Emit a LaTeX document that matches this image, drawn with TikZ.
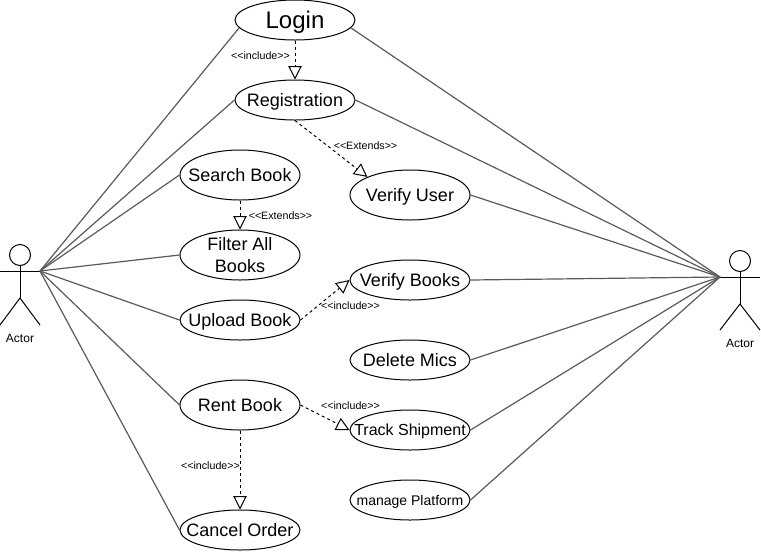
\documentclass[tikz,border=0pt]{standalone}
\usepackage{fontspec}
\setmainfont{Liberation Sans}
\usetikzlibrary{shapes.geometric,arrows.meta}
\definecolor{assocgray}{RGB}{90,90,90}
\newcommand{\fbig}{\fontsize{18}{21}\selectfont}
\newcommand{\fmid}{\fontsize{13.5}{16.5}\selectfont}
\newcommand{\fsml}{\fontsize{12}{14}\selectfont}
\newcommand{\ftny}{\fontsize{10.5}{12}\selectfont}
\newcommand{\nodp}[1]{\raisebox{0pt}[\height][0pt]{#1}}
\newcommand{\incl}{<{}<include>{}>}
\newcommand{\extd}{<{}<Extends>{}>}

\begin{document}
\begin{tikzpicture}[
    x=0.75pt,y=-0.75pt,
    ucase/.style 2 args={ellipse,draw,line width=0.75pt,minimum width=90pt,
                 minimum height=30pt,inner sep=0pt,
                 label={[align=center,inner sep=0pt,font=#1]center:{#2}}},
    tallcase/.style={minimum height=37.5pt},
    assoc/.style={assocgray,line width=0.9pt},
    dep/.style={-{Triangle[length=10pt,width=10pt,fill=white]},
                dash pattern=on 2.25pt off 2.25pt,line width=0.75pt},
    stereo/.style={font=\fontsize{8}{10}\selectfont,inner sep=0pt},
    limb/.style={line width=0.75pt},
    head/.style={circle,draw,line width=0.75pt,minimum size=15.75pt,inner sep=0pt},
    actorname/.style={font=\fontsize{9}{11}\selectfont,inner sep=0pt}
  ]
  \useasboundingbox (0,0) rectangle (761,551);

  %% ── Use cases, middle column ──────────────────────────────────────────────
  \node[ucase={\fbig}{\nodp{Login}}] (login) at (295,20) {};
  \node[ucase={\fmid}{\nodp{Registration}}] (reg) at (295,100) {};
  \node[ucase={\fmid}{Search Book},tallcase] (search) at (240,175) {};
  \node[ucase={\fmid}{Filter All\\Books},tallcase] (filter) at (240,255) {};
  \node[ucase={\fmid}{\nodp{Upload Book}}] (upload) at (240,320) {};
  \node[ucase={\fmid}{Rent Book},tallcase] (rent) at (240,405) {};
  \node[ucase={\fmid}{Cancel Order}] (cancel) at (240,530) {};

  %% ── Use cases, right column ───────────────────────────────────────────────
  \node[ucase={\fmid}{\nodp{Verify User}},tallcase] (vuser) at (410,195) {};
  \node[ucase={\fmid}{\nodp{Verify Books}}] (vbooks) at (410,280) {};
  \node[ucase={\fmid}{Delete Mics}] (delmics) at (410,360) {};
  \node[ucase={\fsml}{\nodp{Track Shipment}}] (track) at (410,430) {};
  \node[ucase={\ftny}{\nodp{manage Platform}}] (manage) at (410,500) {};

  %% ── Left actor ────────────────────────────────────────────────────────────
  \node[head] (headl) at (20,255) {};
  \coordinate (hipl) at (20,298);
  \coordinate (handl) at (40,271);
  \coordinate (arml) at (0,271);
  \coordinate (footla) at (0,325);
  \coordinate (footlb) at (40,325);
  \draw[limb] (headl) -- (hipl);
  \draw[limb] (arml) -- (handl);
  \draw[limb] (footla) -- (hipl) -- (footlb);
  \node[actorname] (namel) at (20,338) {Actor};

  %% ── Right actor ───────────────────────────────────────────────────────────
  \node[head] (headr) at (740,261) {};
  \coordinate (hipr) at (740,304);
  \coordinate (handr) at (720,277);
  \coordinate (armr) at (760,277);
  \coordinate (footra) at (720,330);
  \coordinate (footrb) at (760,330);
  \draw[limb] (headr) -- (hipr);
  \draw[limb] (handr) -- (armr);
  \draw[limb] (footra) -- (hipr) -- (footrb);
  \node[actorname] (namer) at (740,343) {Actor};

  %% ── Associations ──────────────────────────────────────────────────────────
  \draw[assoc] (handl) -- (login.188);
  \draw[assoc] (handl) -- (reg.west);
  \draw[assoc] (handl) -- (search.west);
  \draw[assoc] (handl) -- (filter.west);
  \draw[assoc] (handl) -- (upload.west);
  \draw[assoc] (handl) -- (rent.west);
  \draw[assoc] (handl) -- (cancel.west);
  \draw[assoc] (handr) -- (login.-8);
  \draw[assoc] (handr) -- (reg.east);
  \draw[assoc] (handr) -- (vuser.east);
  \draw[assoc] (handr) -- (vbooks.east);
  \draw[assoc] (handr) -- (delmics.east);
  \draw[assoc] (handr) -- (track.east);
  \draw[assoc] (handr) -- (manage.east);

  %% ── Dependencies ──────────────────────────────────────────────────────────
  \draw[dep] (login.south) -- (reg.north);
  \draw[dep] (reg.south) -- (vuser.157);
  \draw[dep] (search.south) -- (filter.north);
  \draw[dep] (upload.east) -- (vbooks.west);
  \draw[dep] (rent.east) -- (track.west);
  \draw[dep] (rent.south) -- (cancel.north);

  \node[stereo] (inclogin) at (260.5,56) {\incl};
  \node[stereo] (extreg) at (365.5,146) {\extd};
  \node[stereo] (extsearch) at (280.5,216) {\extd};
  \node[stereo] (incupload) at (350.5,306) {\incl};
  \node[stereo] (incrent) at (350.5,406) {\incl};
  \node[stereo] (inccancel) at (210.5,466) {\incl};

\end{tikzpicture}
\end{document}
